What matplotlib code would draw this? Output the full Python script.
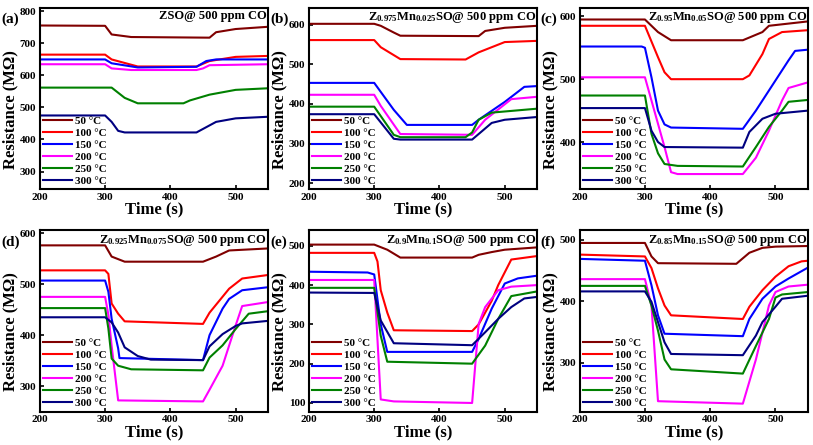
import matplotlib
matplotlib.use('Agg')
import matplotlib.pyplot as plt

plt.rcParams['font.family'] = ['Liberation Serif', 'DejaVu Serif']
plt.rcParams['font.weight'] = 'bold'
plt.rcParams['mathtext.fontset'] = 'custom'
plt.rcParams['mathtext.rm'] = 'Liberation Serif:bold'
plt.rcParams['mathtext.it'] = 'Liberation Serif:bold'
plt.rcParams['mathtext.bf'] = 'Liberation Serif:bold'

temps = ['50 °C', '100 °C', '150 °C', '200 °C', '250 °C', '300 °C']
colors = ['#800000', '#ff0000', '#0000ff', '#ff00ff', '#008000', '#000080']

# (a) ZSO
a_t = [[200, 300, 310, 340, 460, 470, 500, 550],
       [200, 300, 310, 350, 440, 460, 500, 550],
       [200, 300, 310, 350, 440, 455, 470, 550],
       [200, 300, 310, 340, 440, 450, 460, 550],
       [200, 310, 330, 350, 420, 430, 460, 500, 550],
       [200, 300, 310, 320, 330, 440, 470, 500, 550]]
a_r = [[756, 755, 728, 720, 718, 735, 745, 752],
       [665, 665, 650, 628, 628, 645, 658, 661],
       [650, 650, 638, 625, 627, 645, 650, 650],
       [635, 635, 622, 617, 617, 622, 632, 635],
       [562, 562, 530, 513, 513, 522, 540, 555, 560],
       [475, 475, 455, 427, 422, 422, 455, 466, 471]]

# (b) Z0.975Mn0.025SO
b_t = [[200, 300, 310, 330, 340, 460, 470, 500, 550],
       [200, 300, 310, 340, 440, 460, 500, 550],
       [200, 300, 330, 350, 450, 460, 500, 530, 550],
       [200, 300, 310, 340, 450, 470, 510, 550],
       [200, 300, 330, 340, 440, 450, 460, 480, 550],
       [200, 300, 330, 340, 450, 480, 500, 550]]
b_r = [[602, 602, 597, 580, 572, 571, 584, 592, 597],
       [561, 561, 543, 513, 512, 530, 556, 559],
       [453, 453, 385, 347, 347, 360, 405, 443, 445],
       [423, 423, 395, 324, 322, 360, 412, 418],
       [393, 393, 322, 316, 316, 328, 360, 378, 388],
       [374, 374, 312, 310, 310, 352, 360, 367]]

# (c) Z0.95Mn0.05SO
c_t = [[200, 300, 320, 340, 450, 480, 490, 550],
       [200, 300, 320, 330, 340, 450, 460, 480, 490, 510, 550],
       [200, 295, 300, 310, 320, 330, 340, 450, 470, 490, 520, 530, 550],
       [200, 300, 310, 330, 340, 350, 450, 470, 490, 510, 520, 550],
       [200, 300, 310, 320, 330, 350, 450, 470, 490, 510, 520, 550],
       [200, 300, 310, 320, 330, 450, 460, 480, 500, 550]]
c_r = [[595, 595, 575, 562, 562, 575, 585, 592],
       [585, 585, 535, 511, 500, 500, 506, 540, 564, 575, 578],
       [552, 552, 550, 503, 450, 428, 423, 421, 450, 482, 530, 545, 547],
       [503, 503, 466, 392, 352, 349, 349, 375, 418, 466, 486, 495],
       [474, 474, 413, 382, 365, 362, 361, 392, 424, 450, 464, 467],
       [454, 454, 418, 400, 392, 391, 416, 437, 445, 450]]

# (d) Z0.925Mn0.075SO
d_t = [[200, 300, 310, 330, 450, 470, 490, 550],
       [200, 300, 305, 310, 320, 330, 450, 460, 490, 510, 550],
       [200, 300, 305, 310, 320, 322, 450, 460, 480, 490, 510, 550],
       [200, 300, 305, 310, 320, 450, 460, 480, 500, 510, 550],
       [200, 300, 305, 310, 320, 340, 450, 460, 480, 500, 520, 550],
       [200, 300, 310, 320, 330, 350, 370, 450, 460, 480, 500, 510, 550]]
d_r = [[576, 576, 554, 544, 544, 554, 566, 570],
       [527, 527, 520, 462, 442, 427, 422, 444, 491, 511, 518],
       [507, 507, 485, 432, 374, 355, 351, 400, 452, 471, 488, 494],
       [475, 475, 440, 379, 272, 270, 293, 340, 419, 457, 465],
       [453, 453, 413, 354, 340, 333, 331, 356, 380, 412, 442, 447],
       [435, 435, 425, 405, 376, 359, 352, 351, 378, 402, 418, 423, 428]]

# (e) Z0.9Mn0.1SO
e_t = [[200, 300, 320, 340, 450, 460, 480, 500, 550],
       [200, 300, 305, 310, 320, 330, 450, 460, 480, 490, 510, 550],
       [200, 290, 300, 310, 320, 450, 460, 480, 500, 520, 550],
       [200, 300, 310, 330, 450, 460, 470, 490, 510, 550],
       [200, 300, 310, 320, 450, 470, 490, 510, 550],
       [200, 300, 310, 330, 450, 470, 490, 510, 530, 550]]
e_r = [[503, 503, 490, 470, 470, 477, 484, 490, 496],
       [482, 482, 460, 387, 330, 285, 283, 300, 360, 400, 465, 474],
       [434, 432, 427, 300, 230, 230, 263, 340, 404, 417, 424],
       [413, 413, 109, 104, 100, 301, 344, 387, 396, 400],
       [393, 393, 271, 205, 200, 246, 314, 372, 384],
       [381, 380, 310, 252, 247, 280, 314, 344, 366, 370]]

# (f) Z0.85Mn0.15SO
f_t = [[200, 300, 310, 320, 440, 460, 480, 500, 550],
       [200, 300, 310, 320, 330, 340, 450, 460, 480, 500, 520, 540, 550],
       [200, 300, 310, 320, 330, 450, 460, 480, 500, 520, 550],
       [200, 300, 310, 320, 450, 470, 490, 500, 520, 550],
       [200, 300, 310, 320, 330, 340, 450, 470, 490, 500, 510, 550],
       [200, 300, 310, 330, 340, 450, 470, 480, 500, 510, 550]]
f_r = [[495, 495, 473, 462, 461, 479, 487, 489, 490],
       [476, 473, 454, 421, 393, 377, 371, 391, 418, 440, 457, 465, 466],
       [469, 466, 426, 377, 347, 343, 371, 404, 424, 437, 455],
       [436, 436, 393, 237, 233, 305, 393, 415, 424, 427],
       [425, 425, 393, 352, 305, 289, 282, 327, 371, 406, 411, 415],
       [416, 416, 399, 333, 314, 312, 344, 366, 391, 404, 409]]

titles = ['ZSO@ 500 ppm CO',
          r'Z$_{0.975}$Mn$_{0.025}$SO@ 500 ppm CO',
          r'Z$_{0.95}$Mn$_{0.05}$SO@ 500 ppm CO',
          r'Z$_{0.925}$Mn$_{0.075}$SO@ 500 ppm CO',
          r'Z$_{0.9}$Mn$_{0.1}$SO@ 500 ppm CO',
          r'Z$_{0.85}$Mn$_{0.15}$SO@ 500 ppm CO']
letters = ['(a)', '(b)', '(c)', '(d)', '(e)', '(f)']
ylims = [(245, 812), (185, 643), (325, 614), (250, 606), (78, 540), (220, 516)]
yticks = [[300, 400, 500, 600, 700, 800], [200, 300, 400, 500, 600],
          [400, 500, 600], [300, 400, 500, 600],
          [100, 200, 300, 400, 500], [300, 400, 500]]

all_t = [a_t, b_t, c_t, d_t, e_t, f_t]
all_r = [a_r, b_r, c_r, d_r, e_r, f_r]

fig = plt.figure(figsize=(8.13, 4.45), dpi=100)
lefts = [0.049, 0.380, 0.713]
bottoms = [0.575, 0.075]
w = 0.281
h = 0.408

for k in range(6):
    row = k // 3
    col = k % 3
    ax = fig.add_axes([lefts[col], bottoms[row], w, h])
    for i in range(6):
        ax.plot(all_t[k][i], all_r[k][i], color=colors[i], lw=1.5, label=temps[i])
    ax.set_xlim(200, 550)
    ax.set_ylim(ylims[k])
    ax.set_xticks([200, 300, 400, 500])
    ax.set_yticks(yticks[k])
    ax.tick_params(direction='in', length=3, width=1.2, labelsize=8, pad=2.5)
    for lab in ax.get_xticklabels() + ax.get_yticklabels():
        lab.set_fontweight('bold')
    for s in ax.spines.values():
        s.set_linewidth(1.5)
    ax.set_xlabel('Time (s)', fontsize=12, fontweight='bold', labelpad=0)
    ax.set_ylabel('Resistance (MΩ)', fontsize=12, fontweight='bold')
    ax.yaxis.set_label_coords(-0.093, 0.44)
    ax.text(0.995, 0.985, titles[k], transform=ax.transAxes, ha='right', va='top',
            fontsize=9, fontweight='bold')
    ax.text(-0.17, 0.97, letters[k], transform=ax.transAxes, ha='left', va='top',
            fontsize=11, fontweight='bold')
    ax.legend(loc='lower left', frameon=False, handlelength=2.6,
              labelspacing=0.2, borderaxespad=0.0, handletextpad=0.3,
              borderpad=0.3, prop={'weight': 'bold', 'size': 8})

fig.savefig('out.png', dpi=100)
